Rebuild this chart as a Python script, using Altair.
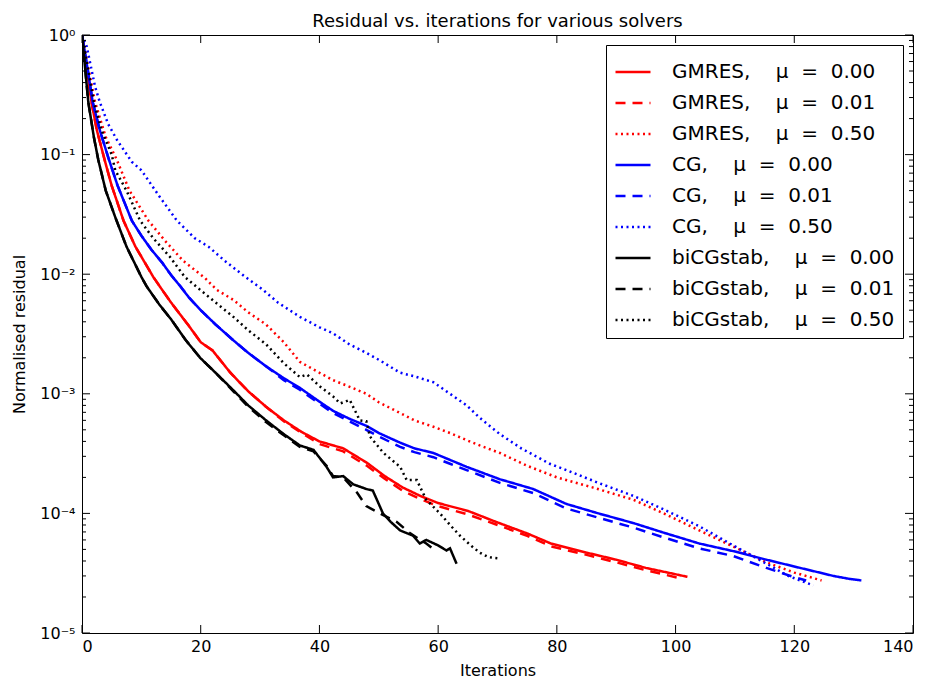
import altair as alt
import pandas as pd

NB = "\u00a0"

# ---------------- data ----------------
labels = [
    "GMRES," + NB * 4 + "μ" + NB * 2 + "=" + NB * 2 + "0.00",
    "GMRES," + NB * 4 + "μ" + NB * 2 + "=" + NB * 2 + "0.01",
    "GMRES," + NB * 4 + "μ" + NB * 2 + "=" + NB * 2 + "0.50",
    "CG," + NB * 4 + "μ" + NB * 2 + "=" + NB * 2 + "0.00",
    "CG," + NB * 4 + "μ" + NB * 2 + "=" + NB * 2 + "0.01",
    "CG," + NB * 4 + "μ" + NB * 2 + "=" + NB * 2 + "0.50",
    "biCGstab," + NB * 4 + "μ" + NB * 2 + "=" + NB * 2 + "0.00",
    "biCGstab," + NB * 4 + "μ" + NB * 2 + "=" + NB * 2 + "0.01",
    "biCGstab," + NB * 4 + "μ" + NB * 2 + "=" + NB * 2 + "0.50",
]
colors = ["#ff0000", "#ff0000", "#ff0000",
          "#0000ff", "#0000ff", "#0000ff",
          "#000000", "#000000", "#000000"]
dashes = [[1, 0], [10, 7], [2, 3.5],
          [1, 0], [10, 7], [2, 3.5],
          [1, 0], [10, 7], [2, 3.5]]
widths = [2.5, 2.5, 2.0, 2.5, 2.5, 2.0, 2.5, 2.5, 2.0]

gmres_000_it = [0, 1, 1.6, 2.5, 3.9, 5, 7, 9, 12, 13.5, 15, 18, 20, 22, 25, 28, 31, 34, 37, 40, 44, 48, 51, 54, 57, 60, 65, 70, 75, 79, 85, 90, 95, 102]
gmres_000_res = [1.0, 0.45, 0.275, 0.16, 0.087, 0.055, 0.028, 0.017, 0.0095, 0.0074, 0.0058, 0.0037, 0.0027, 0.0023, 0.0015, 0.00105, 7.8e-4, 6.0e-4, 4.8e-4, 4.0e-4, 3.5e-4, 2.65e-4, 2.05e-4, 1.65e-4, 1.4e-4, 1.22e-4, 1.05e-4, 8.4e-5, 6.8e-5, 5.6e-5, 4.7e-5, 4.1e-5, 3.5e-5, 2.95e-5]

gmres_001_it = [0, 1, 1.6, 2.5, 3.9, 5, 7, 9, 12, 13.5, 15, 18, 20, 22, 25, 28, 31, 34, 37, 40, 44, 48, 51, 54, 57, 60, 65, 70, 75, 79, 85, 90, 95, 101]
gmres_001_res = [1.0, 0.45, 0.275, 0.16, 0.087, 0.055, 0.028, 0.017, 0.0095, 0.0074, 0.0058, 0.0037, 0.0027, 0.0023, 0.0015, 0.00105, 7.8e-4, 5.9e-4, 4.7e-4, 3.8e-4, 3.3e-4, 2.5e-4, 1.95e-4, 1.55e-4, 1.32e-4, 1.15e-4, 9.8e-5, 8.0e-5, 6.5e-5, 5.3e-5, 4.5e-5, 3.9e-5, 3.35e-5, 2.85e-5]

gmres_050_it = [0, 1, 2.2, 4, 5.8, 8, 11.2, 14, 17, 20.7, 22.7, 25.5, 28, 31, 34, 36.7, 40, 42.3, 45, 47.9, 50, 53.6, 56, 59.2, 62, 64.8, 67, 70.4, 75, 80, 86, 92.9, 98, 104, 110, 115.3, 120, 124.6]
gmres_050_res = [1.0, 0.55, 0.275, 0.14, 0.092, 0.05, 0.028, 0.019, 0.013, 0.0093, 0.0074, 0.0061, 0.0048, 0.0038, 0.0027, 0.00185, 0.0015, 0.0013, 0.00115, 0.001, 8.5e-4, 6.9e-4, 6.0e-4, 5.3e-4, 4.7e-4, 4.1e-4, 3.7e-4, 3.2e-4, 2.5e-4, 2.0e-4, 1.65e-4, 1.3e-4, 1.0e-4, 7.2e-5, 5.2e-5, 3.9e-5, 3.2e-5, 2.75e-5]

cg_000_it = [0, 1, 1.8, 3, 4.5, 6, 8.4, 10, 11.7, 13.5, 15.1, 16.5, 18, 20, 22.5, 25.5, 28, 31, 34, 36.7, 40, 42.3, 45, 47.9, 50, 53.6, 56, 59.2, 62, 64.8, 70.4, 76, 81.6, 87, 92.9, 98, 104, 110, 115.3, 121, 126.6, 129, 131.3]
cg_000_res = [1.0, 0.5, 0.275, 0.16, 0.092, 0.055, 0.028, 0.021, 0.016, 0.0125, 0.0097, 0.0080, 0.0064, 0.005, 0.0038, 0.0028, 0.0022, 0.0017, 0.00135, 0.00112, 8.6e-4, 7.2e-4, 6.2e-4, 5.4e-4, 4.7e-4, 3.9e-4, 3.5e-4, 3.2e-4, 2.8e-4, 2.45e-4, 1.93e-4, 1.6e-4, 1.2e-4, 1.0e-4, 8.3e-5, 6.9e-5, 5.6e-5, 4.8e-5, 4.1e-5, 3.5e-5, 3.0e-5, 2.85e-5, 2.75e-5]

cg_001_it = [0, 1, 1.8, 3, 4.5, 6, 8.4, 10, 11.7, 13.5, 15.1, 16.5, 18, 20, 22.5, 25.5, 28, 31, 34, 36.7, 40, 42.3, 45, 47.9, 50, 53.6, 56, 59.2, 62, 64.8, 70.4, 76, 81.6, 87, 92.9, 98, 104, 109.7, 115.3, 119.8, 122]
cg_001_res = [1.0, 0.5, 0.275, 0.16, 0.092, 0.055, 0.028, 0.021, 0.016, 0.0125, 0.0097, 0.0080, 0.0064, 0.005, 0.0038, 0.0028, 0.0022, 0.0017, 0.0013, 0.00108, 8.3e-4, 6.9e-4, 5.9e-4, 5.0e-4, 4.4e-4, 3.6e-4, 3.25e-4, 2.95e-4, 2.6e-4, 2.3e-4, 1.8e-4, 1.48e-4, 1.1e-4, 9.2e-5, 7.6e-5, 6.3e-5, 5.1e-5, 4.4e-5, 3.5e-5, 2.95e-5, 2.75e-5]

cg_050_it = [0, 0.8, 2.2, 3.0, 4.4, 6, 8.4, 10, 13, 16, 19, 21.3, 24, 27.5, 30.5, 33, 36.7, 40, 42.3, 45, 47.9, 50.2, 53.6, 56, 59.2, 62, 64.8, 67, 70.4, 74, 78.8, 81.6, 87, 92.9, 98, 104, 110, 115.3, 119, 123.2]
cg_050_res = [1.0, 0.8, 0.37, 0.275, 0.18, 0.13, 0.087, 0.074, 0.045, 0.028, 0.02, 0.017, 0.013, 0.0095, 0.0074, 0.0058, 0.0044, 0.0036, 0.0032, 0.0026, 0.0022, 0.0019, 0.0015, 0.0014, 0.00125, 0.001, 8.0e-4, 6.3e-4, 4.6e-4, 3.5e-4, 2.6e-4, 2.3e-4, 1.8e-4, 1.4e-4, 1.08e-4, 7.8e-5, 5.3e-5, 3.8e-5, 3.0e-5, 2.5e-5]

bicg_000_it = [0, 1.06, 2, 2.75, 4, 5.6, 7.5, 10, 10.9, 13, 15, 17.5, 19.9, 22.5, 25.5, 28, 31, 34, 36.7, 39, 41.2, 42.3, 44, 45.7, 47.9, 49, 50.7, 52, 53.6, 55.8, 56.9, 58, 60, 61.4, 62, 63.1]
bicg_000_res = [1.0, 0.275, 0.14, 0.09, 0.05, 0.03, 0.017, 0.0095, 0.0079, 0.0056, 0.0042, 0.0028, 0.0020, 0.0015, 0.00107, 8.0e-4, 6.0e-4, 4.6e-4, 3.7e-4, 3.4e-4, 2.45e-4, 2.0e-4, 2.05e-4, 1.75e-4, 1.6e-4, 1.55e-4, 1.0e-4, 8.5e-5, 7.2e-5, 6.5e-5, 5.6e-5, 6.0e-5, 5.4e-5, 4.9e-5, 5.1e-5, 3.8e-5]

bicg_001_it = [0, 1.06, 2, 2.75, 4, 5.6, 7.5, 10, 10.9, 13, 15, 17.5, 19.9, 22.5, 25.5, 28, 31, 34, 36.7, 39, 41.2, 42.3, 44, 46.3, 47.9, 50.5, 53, 55.3, 58, 59.7]
bicg_001_res = [1.0, 0.275, 0.14, 0.09, 0.05, 0.03, 0.017, 0.0095, 0.0079, 0.0056, 0.0042, 0.0028, 0.0020, 0.0015, 0.00105, 7.8e-4, 5.8e-4, 4.5e-4, 3.6e-4, 3.3e-4, 2.5e-4, 2.05e-4, 2.0e-4, 1.5e-4, 1.15e-4, 9.8e-5, 8.5e-5, 6.8e-5, 5.6e-5, 4.8e-5]

bicg_050_it = [0, 2, 3.3, 5, 5.6, 7.5, 9.8, 12, 14.8, 17.3, 19.9, 22.5, 25.5, 28, 31, 34, 36.7, 37.9, 40.1, 42.3, 43.5, 45.1, 46.8, 47.9, 48.5, 50.8, 53.6, 54.7, 56.4, 58, 60.3, 62, 63.7, 65.5, 67, 68.5, 70.4]
bicg_050_res = [1.0, 0.275, 0.16, 0.1, 0.074, 0.05, 0.028, 0.02, 0.014, 0.0095, 0.0074, 0.0058, 0.0044, 0.0034, 0.0026, 0.0018, 0.00138, 0.00145, 0.00115, 9.5e-4, 8.3e-4, 8.9e-4, 6.0e-4, 5.9e-4, 4.4e-4, 3.2e-4, 2.45e-4, 1.9e-4, 1.9e-4, 1.3e-4, 1.0e-4, 8.0e-5, 6.5e-5, 5.4e-5, 4.7e-5, 4.3e-5, 4.2e-5]

x_ticks = [0, 20, 40, 60, 80, 100, 120, 140]
y_major = [1e-5, 1e-4, 1e-3, 1e-2, 1e-1, 1.0]
y_tick_labels = ["10⁰", "10⁻¹", "10⁻²", "10⁻³", "10⁻⁴", "10⁻⁵"]
y_decades = [1e-5, 1e-4, 1e-3, 1e-2, 1e-1]
y_minor_mult = [2, 3, 4, 5, 6, 7, 8, 9]

# ---------------- build tables ----------------
series_it = [gmres_000_it, gmres_001_it, gmres_050_it, cg_000_it, cg_001_it,
             cg_050_it, bicg_000_it, bicg_001_it, bicg_050_it]
series_res = [gmres_000_res, gmres_001_res, gmres_050_res, cg_000_res, cg_001_res,
              cg_050_res, bicg_000_res, bicg_001_res, bicg_050_res]

rows = []
for lab, its, vals in zip(labels, series_it, series_res):
    for i, v in zip(its, vals):
        rows.append({"series": lab, "it": i, "res": v})
df = pd.DataFrame(rows)

xt_df = pd.DataFrame({"it": x_ticks})
ymaj_df = pd.DataFrame({"res": y_major})
ymin_df = pd.DataFrame({"res": [m * d for d in y_decades for m in y_minor_mult]})

W, H = 831, 598
FONT = "DejaVu Sans"

label_expr = "[" + ",".join("'" + s + "'" for s in y_tick_labels) + "][round(-log(datum.value)/LN10)]"

x_axis = alt.Axis(values=x_ticks, ticks=False, domain=False, grid=False,
                  labelFont=FONT, labelFontSize=16, labelColor="black", labelPadding=5,
                  title="Iterations", titleFont=FONT, titleFontSize=16,
                  titleFontWeight="normal", titleColor="black", titlePadding=8)
y_axis = alt.Axis(values=y_major, labelExpr=label_expr, ticks=False, domain=False, grid=False,
                  labelFont=FONT, labelFontSize=16, labelColor="black", labelPadding=7,
                  title="Normalised residual", titleFont=FONT, titleFontSize=16,
                  titleFontWeight="normal", titleColor="black", titlePadding=12)

X = alt.X("it:Q", scale=alt.Scale(domain=[0, 140], nice=False, zero=False), axis=x_axis)
Y = alt.Y("res:Q", scale=alt.Scale(type="log", domain=[1e-5, 1], nice=False), axis=y_axis)

legend = alt.Legend(title=None, orient="top-right", offset=10, fillColor="white",
                    strokeColor="black", padding=8, labelFont=FONT, labelFontSize=20,
                    labelColor="black", labelLimit=400, labelOffset=20,
                    symbolType="stroke", symbolSize=1225, rowPadding=2)

lines = alt.Chart(df).mark_line(clip=True).encode(
    x=X,
    y=Y,
    color=alt.Color("series:N", scale=alt.Scale(domain=labels, range=colors), legend=legend),
    strokeDash=alt.StrokeDash("series:N", scale=alt.Scale(domain=labels, range=dashes), legend=legend),
    strokeWidth=alt.StrokeWidth("series:N", scale=alt.Scale(domain=labels, range=widths), legend=legend),
)

xt_bottom = alt.Chart(xt_df).mark_rule(color="black", strokeWidth=1).encode(
    x=X, y=alt.value(H), y2=alt.value(H - 8))
xt_top = alt.Chart(xt_df).mark_rule(color="black", strokeWidth=1).encode(
    x=X, y=alt.value(0), y2=alt.value(8))
yt_left = alt.Chart(ymaj_df).mark_rule(color="black", strokeWidth=1).encode(
    y=Y, x=alt.value(0), x2=alt.value(8))
yt_right = alt.Chart(ymaj_df).mark_rule(color="black", strokeWidth=1).encode(
    y=Y, x=alt.value(W), x2=alt.value(W - 8))
ym_left = alt.Chart(ymin_df).mark_rule(color="black", strokeWidth=1).encode(
    y=Y, x=alt.value(0), x2=alt.value(4))
ym_right = alt.Chart(ymin_df).mark_rule(color="black", strokeWidth=1).encode(
    y=Y, x=alt.value(W), x2=alt.value(W - 4))

chart = alt.layer(lines, xt_bottom, xt_top, yt_left, yt_right, ym_left, ym_right).properties(
    width=W,
    height=H,
    padding={"left": 74, "top": 27, "right": 10, "bottom": 48},
    autosize=alt.AutoSizeParams(type="none"),
    title=alt.TitleParams("Residual vs. iterations for various solvers", font=FONT,
                          fontSize=18, fontWeight="normal", color="black", offset=-4,
                          anchor="middle"),
    background="white",
).configure_view(stroke="black", strokeWidth=1)

chart.save("out.html", embed_options={"renderer": "svg", "actions": False})
